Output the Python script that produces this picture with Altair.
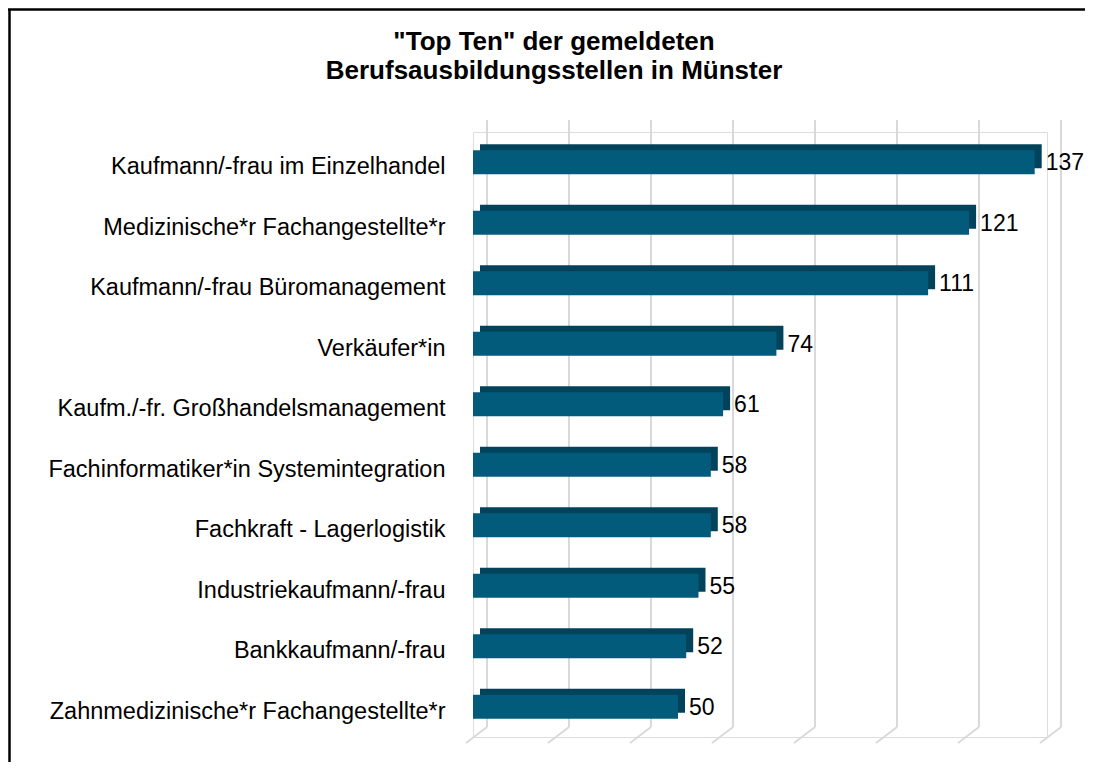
import altair as alt
import pandas as pd

categories = [
    "Kaufmann/-frau im Einzelhandel",
    "Medizinische*r Fachangestellte*r",
    "Kaufmann/-frau Büromanagement",
    "Verkäufer*in",
    "Kaufm./-fr. Großhandelsmanagement",
    "Fachinformatiker*in Systemintegration",
    "Fachkraft - Lagerlogistik",
    "Industriekaufmann/-frau",
    "Bankkaufmann/-frau",
    "Zahnmedizinische*r Fachangestellte*r",
]
values = [137, 121, 111, 74, 61, 58, 58, 55, 52, 50]
grid_ticks = [0, 20, 40, 60, 80, 100, 120, 140]

df = pd.DataFrame({"Beruf": categories, "Anzahl": values})
grid_df = pd.DataFrame({"t": grid_ticks})
frame_df = pd.DataFrame({"a": [0]})

W, H = 574, 605
PAD_L, PAD_T = 465, 124
PAD_R = 1077 - PAD_L - W
PAD_B = 754 - PAD_T - H

FONT = "Liberation Sans"
FRONT = "#035B7C"
DARK = "#02435B"
GRID = "#D9D9D9"

xscale = alt.Scale(domain=[0, 140], nice=False, zero=True)
yscale = alt.Scale(domain=categories, paddingInner=0.6, paddingOuter=0.3)

Y = alt.Y(
    "Beruf:N",
    scale=yscale,
    sort=categories,
    title=None,
    axis=alt.Axis(
        domain=False,
        ticks=False,
        grid=False,
        labelFont=FONT,
        labelFontSize=23.5,
        labelColor="black",
        labelPadding=28,
        labelLimit=600,
        labelOffset=5,
    ),
)
X = alt.X("Anzahl:Q", scale=xscale, axis=None)

base = alt.Chart(df)

# back wall gridlines and floor lines
grid = alt.Chart(grid_df).mark_rule(color=GRID, strokeWidth=2, xOffset=14).encode(
    x=alt.X("t:Q", scale=xscale, axis=None),
    y=alt.value(-12),
    y2=alt.value(595),
)
floor = alt.Chart(grid_df).mark_rule(color=GRID, strokeWidth=2, xOffset=14, x2Offset=-7).encode(
    x=alt.X("t:Q", scale=xscale, axis=None),
    x2="t:Q",
    y=alt.value(595),
    y2=alt.value(611),
)

depth = base.mark_bar(color=DARK, xOffset=7, x2Offset=7, yOffset=-6).encode(x=X, y=Y)
bars = base.mark_bar(color=FRONT).encode(x=X, y=Y)

labels = base.mark_text(
    align="left", baseline="middle", dx=11, dy=1, font=FONT, fontSize=23, color="black"
).encode(x=X, y=Y, text=alt.Text("Anzahl:Q"))

frame_left = alt.Chart(frame_df).mark_rule(color="black", strokeWidth=2.5).encode(
    x=alt.value(-PAD_L + 1.5),
    y=alt.value(-PAD_T + 1.5),
    y2=alt.value(H + PAD_B),
)
frame_top = alt.Chart(frame_df).mark_rule(color="black", strokeWidth=2.5).encode(
    x=alt.value(-PAD_L),
    x2=alt.value(W + PAD_R),
    y=alt.value(-PAD_T + 1.5),
)

chart = (
    alt.layer(frame_left, frame_top, grid, floor, depth, bars, labels)
    .properties(
        width=W,
        height=H,
        title=alt.TitleParams(
            text=['"Top Ten" der gemeldeten', "Berufsausbildungsstellen in Münster"],
            font=FONT,
            fontSize=26,
            fontWeight="bold",
            color="black",
            lineHeight=29,
            anchor="middle",
            dx=-(W / 2 + PAD_L + 8 - 554),
            offset=-76,
        ),
        autosize=alt.AutoSizeParams(type="none"),
        padding={"left": PAD_L, "top": PAD_T, "right": PAD_R, "bottom": PAD_B},
    )
    .configure_view(stroke=None)
    .configure(background="white")
)

chart.save("out.html", embed_options={"renderer": "svg", "actions": False})
